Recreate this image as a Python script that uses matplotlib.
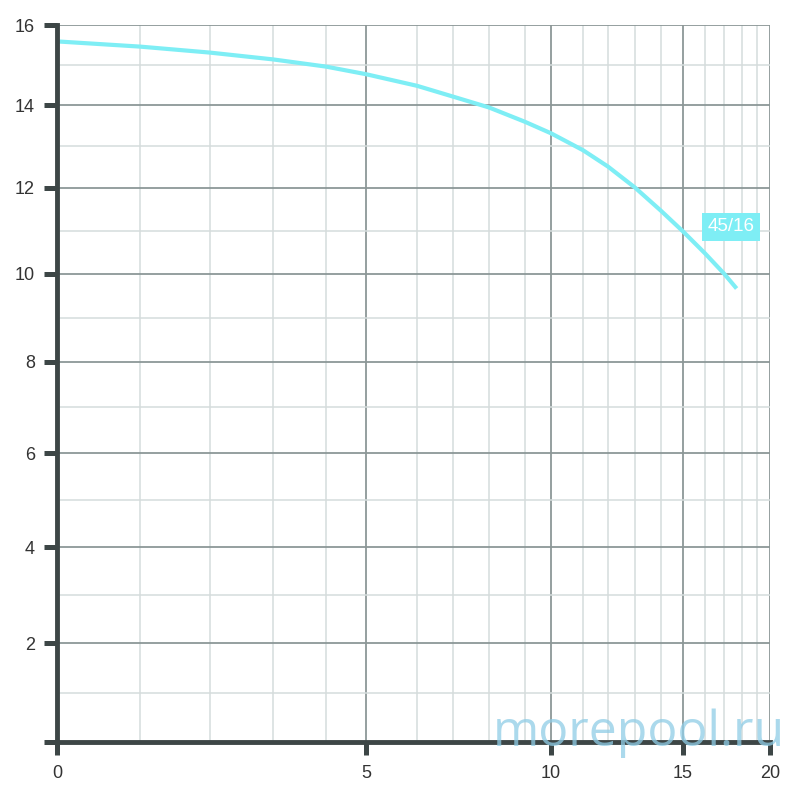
"""Pump curve 45/16 on the non-uniform grid of the catalogue sheet."""
import numpy as np
import matplotlib
matplotlib.use("Agg")
import matplotlib.pyplot as plt

# flow values and head
flow = [0, 1, 2, 3, 4, 5, 6, 7, 8, 9, 10, 11, 12, 13, 14, 15, 16, 17, 17.7]
head = [15.59, 15.46, 15.31, 15.14, 14.96, 14.77, 14.48, 14.21, 13.94, 13.59,
        13.31, 12.90, 12.51, 12.01, 11.47, 10.99, 10.48, 10.01, 9.67]
curve_name = "45/16"
x_ticks = [0, 5, 10, 15, 20]
y_ticks = [2, 4, 6, 8, 10, 12, 14, 16]

# the sheet's axes are not linear: where each integer grid line sits
x_grid_vals = np.arange(0, 21)
x_grid_pos = np.array([57, 140, 210, 273, 326, 366, 417, 453, 489, 525, 551,
                       583, 608, 635, 661, 683, 705, 724, 742, 757, 770], float)
y_grid_vals = np.arange(0, 17)
y_grid_pos = np.array([742, 693, 643, 595, 547, 500, 453, 407, 362, 318, 274,
                       231, 188, 146, 105, 65, 25], float)
y_grid_pos = 742 - y_grid_pos


def fwd_x(v):
    return np.interp(v, x_grid_vals, x_grid_pos, left=-1e3, right=2e3)


def inv_x(p):
    return np.interp(p, x_grid_pos, x_grid_vals)


def fwd_y(v):
    return np.interp(v, y_grid_vals, y_grid_pos, left=-1e3, right=2e3)


def inv_y(p):
    return np.interp(p, y_grid_pos, y_grid_vals)


plt.rcParams["font.family"] = ["Liberation Sans", "DejaVu Sans"]
dark = "#3d4646"
cyan = "#7eeef5"
fig = plt.figure(figsize=(8, 8), dpi=100)
ax = fig.add_axes([57 / 800, 58 / 800, 713 / 800, 717 / 800])
ax.set_xscale("function", functions=(fwd_x, inv_x))
ax.set_yscale("function", functions=(fwd_y, inv_y))
ax.set_xlim(0, 20)
ax.set_ylim(0, 16)

# grid: minor lines light, major lines darker
for v in x_grid_vals[1:]:
    major = v % 5 == 0
    ax.axvline(v, color="#8c9797" if major else "#d5dcdc",
               lw=1.3 if major else 1.1, zorder=1)
for v in y_grid_vals[1:]:
    major = v % 2 == 0
    ax.axhline(v, color="#8c9797" if major else "#d5dcdc",
               lw=1.3 if major else 1.1, zorder=1)

ax.plot(flow, head, color=cyan, lw=3.0, solid_capstyle="butt",
        solid_joinstyle="round", zorder=3)
ax.text(17.4, 11.1, curve_name, color="white", fontsize=13.5,
        ha="center", va="center", zorder=4,
        bbox=dict(boxstyle="square,pad=0.3", fc=cyan, ec="none"))

for s in ["top", "right"]:
    ax.spines[s].set_visible(False)
for s in ["left", "bottom"]:
    ax.spines[s].set_color(dark)
    ax.spines[s].set_linewidth(3.5)
    ax.spines[s].set_zorder(5)

ax.set_xticks(x_ticks)
ax.set_yticks([0] + y_ticks)
ax.set_yticklabels([""] + [str(t) for t in y_ticks])
ax.minorticks_off()
ax.tick_params(axis="both", length=9.5, width=3.6, color=dark,
               labelcolor="#333333", labelsize=13)
ax.tick_params(axis="y", pad=6.5)
ax.tick_params(axis="x", pad=7)

fig.text(0.798, 0.068, "morepool.ru", fontsize=36, color="#8fcde6", alpha=0.75,
         ha="center", va="baseline", family="Open Sans", zorder=10)

fig.savefig("out.png", dpi=100)
